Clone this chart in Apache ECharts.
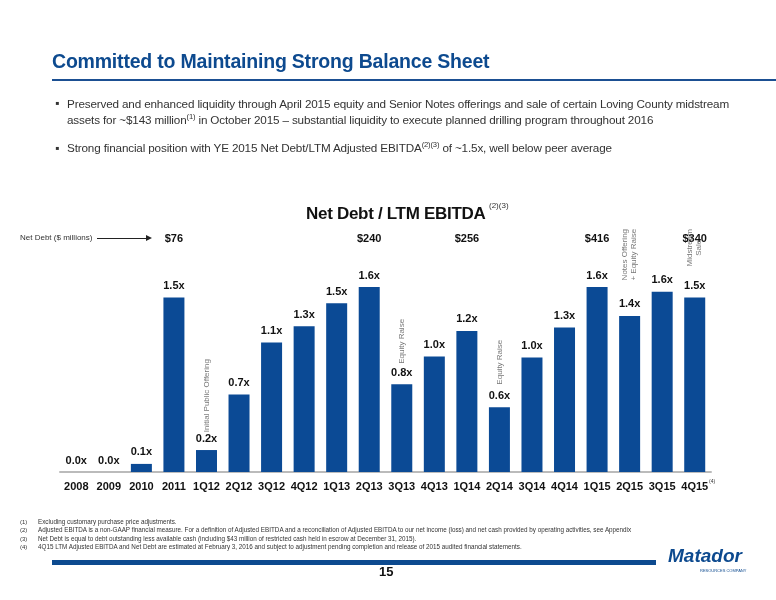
<!DOCTYPE html>
<html><head><meta charset="utf-8">
<script src="https://cdn.jsdelivr.net/npm/echarts@6/dist/echarts.min.js"></script>
<style>
body{margin:0;width:776px;height:600px;position:relative;font-family:"Liberation Sans",Arial,sans-serif;background:#fff;overflow:hidden}
#c{position:absolute;left:0;top:0;width:776px;height:600px}
.a{position:absolute;white-space:nowrap}
sup{font-size:65%;line-height:0}
</style></head><body>
<div id="c"></div>
<div class="a" style="left:52px;top:50px;font-size:19.5px;font-weight:bold;color:#0d4a8f;letter-spacing:-0.2px">Committed to Maintaining Strong Balance Sheet</div>
<div class="a" style="left:52px;top:79px;width:724px;height:2px;background:#1b4f92"></div>
<div class="a" style="left:55px;top:96px;font-size:12px;color:#333;line-height:15px">▪</div>
<div class="a" style="left:67px;top:96px;font-size:11.7px;color:#333;line-height:15.5px;letter-spacing:-0.15px">Preserved and enhanced liquidity through April 2015 equity and Senior Notes offerings and sale of certain Loving County midstream<br>assets for ~$143 million<sup>(1)</sup> in October 2015 – substantial liquidity to execute planned drilling program throughout 2016</div>
<div class="a" style="left:55px;top:141px;font-size:12px;color:#333">▪</div>
<div class="a" style="left:67px;top:141px;font-size:11.7px;color:#333;letter-spacing:-0.15px">Strong financial position with YE 2015 Net Debt/LTM Adjusted EBITDA<sup>(2)(3)</sup> of ~1.5x, well below peer average</div>
<div class="a" style="left:20px;top:233px;font-size:8px;color:#333">Net Debt ($ millions)</div>
<div class="a" style="left:97px;top:238px;width:50px;height:1px;background:#222"></div>
<div class="a" style="left:146px;top:235px;width:0;height:0;border-left:6px solid #222;border-top:3px solid transparent;border-bottom:3px solid transparent"></div>
<div class="a" style="left:306px;top:204px;font-size:17px;font-weight:bold;color:#111;letter-spacing:-0.3px">Net Debt / LTM EBITDA</div>
<div class="a" style="left:489px;top:201px;font-size:8px;color:#333">(2)(3)</div>
<div class="a" style="left:709px;top:478px;font-size:5px;color:#333">(4)</div>
<div class="a" style="left:20px;top:518px;font-size:6px;color:#333;line-height:8.3px">(1)<br>(2)<br>(3)<br>(4)</div>
<div class="a" style="left:38px;top:518px;font-size:6.3px;color:#333;line-height:8.3px">Excluding customary purchase price adjustments.<br>Adjusted EBITDA is a non-GAAP financial measure. For a definition of Adjusted EBITDA and a reconciliation of Adjusted EBITDA to our net income (loss) and net cash provided by operating activities, see Appendix<br>Net Debt is equal to debt outstanding less available cash (including $43 million of restricted cash held in escrow at December 31, 2015).<br>4Q15 LTM Adjusted EBITDA and Net Debt are estimated at February 3, 2016 and subject to adjustment pending completion and release of 2015 audited financial statements.</div>
<div class="a" style="left:52px;top:560px;width:604px;height:5px;background:#0d4a8f"></div>
<div class="a" style="left:379px;top:564px;font-size:13px;font-weight:bold;color:#111">15</div>
<div class="a" style="left:668px;top:545px;font-size:19px;font-weight:bold;font-style:italic;color:#0d4a8f">Matador</div>
<div class="a" style="left:700px;top:568px;font-size:4px;color:#0d4a8f">RESOURCES COMPANY</div>
<script>
var categories=['2008','2009','2010','2011','1Q12','2Q12','3Q12','4Q12','1Q13','2Q13','3Q13','4Q13','1Q14','2Q14','3Q14','4Q14','1Q15','2Q15','3Q15','4Q15'];
var barValues=[0,0,0.07,1.51,0.19,0.67,1.12,1.26,1.46,1.6,0.76,1.0,1.22,0.56,0.99,1.25,1.6,1.35,1.56,1.51];
var barLabels=['0.0x','0.0x','0.1x','1.5x','0.2x','0.7x','1.1x','1.3x','1.5x','1.6x','0.8x','1.0x','1.2x','0.6x','1.0x','1.3x','1.6x','1.4x','1.6x','1.5x'];
var debtCats=['2011','2Q13','1Q14','1Q15','4Q15'];
var debtLabels=['$76','$240','$256','$416','$340'];
var noteCats=['1Q12','3Q13','2Q14','2Q15','4Q15'];
var noteVals=[0.66,1.13,0.95,1.88,1.94];
var noteTexts=['Initial Public Offering','Equity Raise','Equity Raise','Notes Offering\n+ Equity Raise','Midstream\nSale'];
var debtRow=categories.map(function(c){var i=debtCats.indexOf(c);return i<0?null:{value:1.92,lab:debtLabels[i]};});
var ch=echarts.init(document.getElementById('c'));
ch.setOption({
 animation:false,
 grid:{left:60,right:65,top:183,bottom:128},
 xAxis:{type:'category',data:categories,axisTick:{show:false},
  axisLine:{lineStyle:{color:'#bbb',width:2}},
  axisLabel:{interval:0,color:'#111',fontWeight:'bold',fontSize:11,margin:9,fontFamily:'Liberation Sans'}},
 yAxis:{type:'value',min:0,max:2.5,show:false,splitLine:{show:false}},
 series:[
  {type:'bar',data:barValues,barWidth:21,z:3,
   itemStyle:{color:'#0b4a95'},
   label:{show:true,position:'top',distance:6,color:'#111',fontWeight:'bold',fontSize:11,fontFamily:'Liberation Sans',
     formatter:function(p){return barLabels[p.dataIndex];}}},
  {type:'bar',data:debtRow,barWidth:21,barGap:'-100%',z:1,silent:true,
   itemStyle:{color:'rgba(0,0,0,0)'},
   label:{show:true,position:'top',distance:6,color:'#111',fontWeight:'bold',fontSize:11,fontFamily:'Liberation Sans',
     formatter:function(p){return p.data.lab;}}},
  {type:'scatter',symbolSize:2,itemStyle:{color:'transparent'},
   data:noteCats.map(function(c,i){return [c,noteVals[i],noteTexts[i]];}),
   label:{show:true,position:'inside',rotate:90,color:'#555',fontSize:8,lineHeight:9,align:'center',verticalAlign:'middle',fontFamily:'Liberation Sans',
     formatter:function(p){return p.data[2];}}}
 ]
});
</script>
</body></html>
